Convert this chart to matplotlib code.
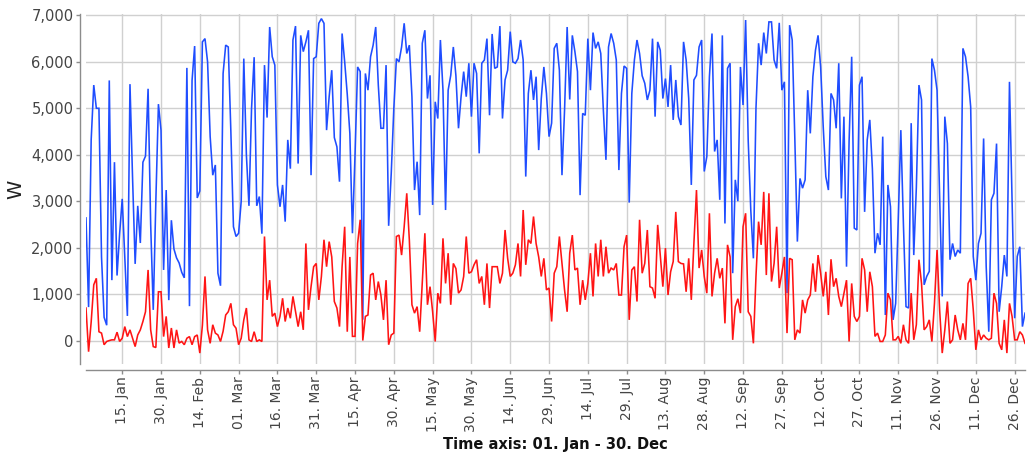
import datetime as dt
import matplotlib
matplotlib.use("Agg")
import matplotlib.pyplot as plt

# ---- data (daily values, 01 Jan - 30 Dec) ----
blue_values = [
    2640, 720, 4320, 5500, 5000, 5000, 1800, 500, 330, 5600,
    1300, 3840, 1400, 2300, 3050, 1800, 530, 5520, 3500, 1650,
    2900, 2100, 3840, 3970, 5420, 2500, 660, 3000, 5090, 4530,
    1520, 3240, 870, 2590, 1970, 1780, 1670, 1470, 1350, 5870,
    740, 5600, 6340, 3070, 3220, 6430, 6500, 6000, 4390, 3560,
    3780, 1450, 1180, 5750, 6360, 6320, 4500, 2450, 2240, 2310,
    3000, 6070, 4000, 2900, 5000, 6100, 2900, 3100, 2300, 5930,
    4800, 6750, 6110, 5930, 3350, 2880, 3350, 2560, 4320, 3700,
    6470, 6770, 3810, 6570, 6220, 6430, 6680, 3560, 6070, 6110,
    6830, 6930, 6830, 4530, 5250, 5820, 4370, 4170, 3420, 6610,
    6000, 5300, 4460, 2310, 4000, 5890, 5790, 450, 5750, 5390,
    6110, 6360, 6750, 5500, 4570, 4570, 5930, 2470, 3600, 5000,
    6070, 6000, 6320, 6830, 6180, 6360, 5250, 3240, 3850, 2700,
    6400, 6680, 5210, 5710, 2920, 5140, 4780, 6470, 5390, 2810,
    5390, 5710, 6320, 5700, 4570, 5250, 5790, 5250, 5970, 4820,
    5970, 5750, 4030, 5970, 6040, 6500, 4850, 6600, 5860, 5890,
    6770, 4780, 5610, 5820, 6650, 6000, 5970, 6070, 6470, 6040,
    3530, 5320, 5820, 5180, 5680, 4100, 5210, 5890, 5320, 4390,
    4680, 6290, 6400, 5820, 3560, 4960, 6750, 5190, 6570, 6220,
    5790, 3130, 4890, 4850, 6500, 5390, 6630, 6290, 6430, 6180,
    4960, 3890, 6320, 6610, 6400, 6040, 3670, 5320, 5910, 5860,
    2970, 5320, 6040, 6470, 6180, 5700, 5540, 5180, 5390, 6500,
    4820, 6430, 6250, 5210, 5640, 5030, 5930, 4750, 5610, 4820,
    4640, 6430, 6040, 5210, 3350, 5610, 5710, 6320, 6470, 3640,
    3960, 5680, 6610, 4070, 4320, 3030, 6570, 2520, 5860, 5970,
    1450, 3460, 3000, 5890, 5070, 6900, 4300, 2800, 1770, 5000,
    6400, 5930, 6630, 6180, 6860, 6860, 6040, 5860, 6840, 5390,
    5570, 1020, 6790, 6470, 4390, 2130, 3490, 3280, 3460, 5390,
    4460, 5680, 6250, 6570, 5890, 4600, 3530, 3240, 5320, 5180,
    4570, 5970, 3060, 4820, 1590, 4300, 6110, 2420, 2380, 5500,
    5680, 2770, 4320, 4750, 3700, 1880, 2310, 2060, 4390, 550,
    3350, 2880, 445, 800, 2600, 4530, 2500, 730, 700, 4680,
    1840, 3300, 5500, 5180, 1200, 1380, 1490, 6070, 5820, 5390,
    3100, 950, 4820, 4240, 1740, 2090, 1810, 1950, 1880, 6290,
    6110, 5680, 5030, 1810, 1300, 2090, 2310, 4350, 1590, 190,
    3030, 3170, 4240, 620, 1160, 1840, 1380, 5570, 3000, 480,
    1810, 2020, 300, 590,
]

red_values = [
    700, -240, 400, 1200, 1340, 190, 160, -90, -20, 0,
    15, 15, 180, -20, 50, 300, 85, 230, 50, -130,
    120, 230, 410, 620, 1520, 230, -130, -150, 1050, 1050,
    85, 520, -160, 270, -160, 230, -55, -20, -90, 50,
    85, -90, 85, 120, -270, 330, 1380, 230, -60, 340,
    160, 120, -20, 200, 550, 620, 800, 340, 265, -90,
    50, 445, 700, 15, -20, 190, -20, 15, -20, 2240,
    875, 1300, 520, 590, 300, 520, 910, 410, 700, 480,
    950, 620, 300, 620, 230, 2090, 660, 1160, 1590, 1660,
    875, 1380, 2170, 1590, 2130, 1800, 840, 700, 300, 1590,
    2450, 190, 1800, 90, 90, 2090, 2600, 0, 520, 550,
    1410, 1450, 875, 1270, 980, 445, 1300, -90, 120, 160,
    2240, 2270, 1840, 2450, 3170, 2160, 770, 590, 730, 190,
    1230, 2310, 770, 1160, 620, -20, 1020, 800, 2200, 1230,
    1880, 770, 1660, 1550, 1020, 1090, 1380, 2240, 1450, 1480,
    1630, 1740, 1230, 1380, 770, 1660, 700, 1590, 1590, 1590,
    1230, 1450, 2380, 1770, 1380, 1450, 1630, 2090, 1380, 2810,
    1630, 2170, 2090, 2670, 2090, 1800, 1380, 1770, 1090, 1130,
    410, 1450, 1590, 2240, 1660, 1090, 620, 1880, 2270, 1520,
    1560, 770, 1300, 875, 1230, 1880, 950, 2090, 1380, 2170,
    1380, 2020, 1450, 1560, 1520, 1660, 980, 980, 2020, 2270,
    445, 1520, 1590, 840, 2600, 1450, 1660, 2380, 1160, 1130,
    910, 2490, 1840, 1160, 1990, 980, 1480, 1700, 2770, 1700,
    1660, 1650, 1050, 1770, 875, 2090, 3240, 1560, 1950, 1380,
    1020, 2740, 950, 1450, 1770, 1340, 1560, 370, 2060, 1800,
    15, 730, 900, 590, 2450, 2740, 620, 520, -60, 1380,
    2560, 2060, 3200, 1410, 3170, 1270, 1660, 2450, 1130, 1450,
    1800, 160, 1770, 1740, 15, 230, 160, 875, 590, 875,
    980, 1660, 1050, 1840, 1450, 950, 1480, 550, 1750, 1160,
    1340, 950, 730, 1020, 1300, -20, 1230, 520, 410, 520,
    1770, 1520, 620, 1480, 1160, 90, 160, -20, -20, 120,
    1020, 875, 15, 15, 90, -60, 340, 15, -60, 1020,
    15, 340, 1740, 1230, 230, 300, 445, -20, 800, 1950,
    660, -270, 230, 840, -60, 15, 550, 230, 15, 370,
    15, 1230, 1340, 660, -200, 230, 15, 120, 50, 15,
    50, 1020, 800, -60, -200, 445, -270, 800, 520, 15,
    15, 190, 120, -60,
]

start_date = dt.date(2023, 1, 1)
tick_days = list(range(14, len(blue_values), 15))
tick_labels = [(start_date + dt.timedelta(days=d)).strftime("%d. %b") for d in tick_days]
y_ticks = [0, 1000, 2000, 3000, 4000, 5000, 6000, 7000]
x_title = "Time axis: 01. Jan - 30. Dec"
y_title = "W"

# ---- figure ----
W, H = 1027, 454
fig = plt.figure(figsize=(W / 100, H / 100), dpi=100)
ax = fig.add_axes([86 / W, 1 - 364 / H, (1025 - 86) / W, (364 - 14) / H])

days = list(range(len(blue_values)))
ax.plot(days, blue_values, color="#1f4dff", lw=1.15, solid_joinstyle="miter", zorder=3)
ax.plot(days, red_values, color="#ff1414", lw=1.15, solid_joinstyle="miter", zorder=3)

ax.set_xlim(0, len(blue_values) - 1)
ax.set_ylim(-505, 7030)

ax.set_yticks(y_ticks)
ax.set_yticklabels([f"{v:,}" for v in y_ticks])
ax.set_xticks(tick_days)
ax.set_xticklabels(tick_labels)

ax.grid(True, color="#d0d0d0", lw=1.0, zorder=0)
ax.set_axisbelow(True)

for s in ("top", "right"):
    ax.spines[s].set_visible(False)
for s in ("left", "bottom"):
    ax.spines[s].set_position(("outward", 4))
    ax.spines[s].set_color("#8c8c8c")
    ax.spines[s].set_linewidth(1.0)

ax.tick_params(axis="both", colors="#8c8c8c", length=3, width=1.0,
               labelcolor="#444444")
ax.tick_params(axis="y", pad=2, labelsize=10.5)
ax.tick_params(axis="x", pad=2, labelsize=10, labelrotation=90)
for lab in ax.get_xticklabels():
    lab.set_fontfamily(["Liberation Sans Narrow", "DejaVu Sans"])

ax.set_xlabel(x_title, fontsize=10.5, fontweight="bold", color="#111111", labelpad=4)
ax.set_ylabel(y_title, fontsize=14, color="#222222", labelpad=4)

fig.savefig("out.png", dpi=100, facecolor="white")
